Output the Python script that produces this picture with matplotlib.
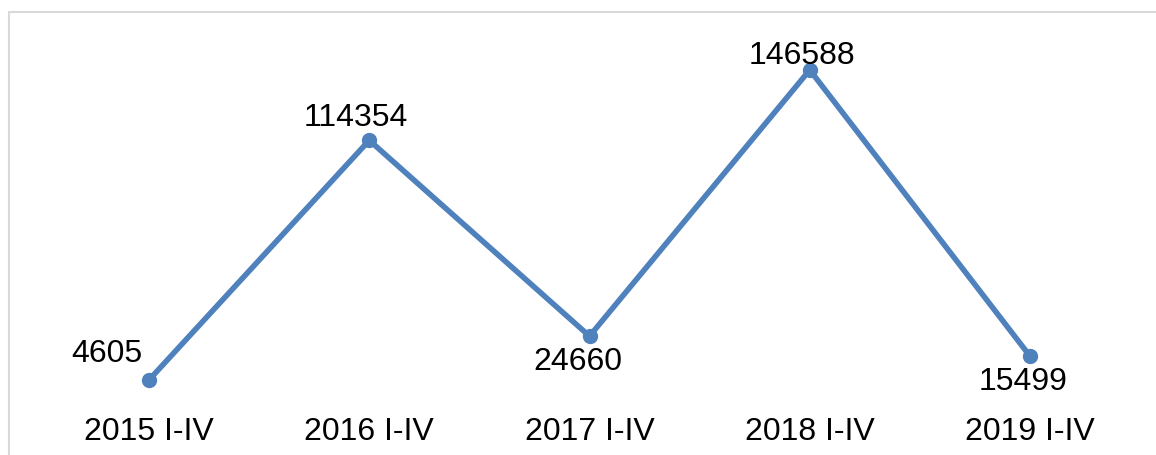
import matplotlib.pyplot as plt
from matplotlib.patches import Rectangle

plt.rcParams['font.family'] = ['Liberation Sans', 'DejaVu Sans']

# Data
periods = ['2015 I-IV', '2016 I-IV', '2017 I-IV', '2018 I-IV', '2019 I-IV']
values = [4605, 114354, 24660, 146588, 15499]
# label offsets in pixels (dx, dy) relative to each point
label_offsets = [(-42, 19), (-13, 15), (-12, -33), (-8, 7), (-7, -33)]

fig = plt.figure(figsize=(11.56, 4.56), dpi=100)
ax = fig.add_axes([0, 0, 1, 1])

# map data to pixels: x=0 at px 149, step 220.25; y=0 at px 391 (from top), 458 per px
ax.set_xlim(-149 / 220.25, (1156 - 149) / 220.25)
ax.set_ylim(-(456 - 391) * 458, 391 * 458)
ax.axis('off')

# chart border
fig.patches.append(Rectangle((9 / 1156, -0.1), 1.2, (456 - 13) / 456 + 0.1,
                             transform=fig.transFigure, fill=False,
                             edgecolor='#d9d9d9', linewidth=1.5))

x = list(range(len(values)))
ax.plot(x, values, color='#4F81BD', linewidth=4, marker='o', markersize=10,
        solid_capstyle='round')

for xi, v, (dx, dy) in zip(x, values, label_offsets):
    ax.annotate(str(v), (xi, v), xytext=(dx, dy), textcoords='offset pixels',
                ha='center', va='baseline', fontsize=23, color='black')

for xi, p in zip(x, periods):
    ax.text(xi, 1 - 440 / 456, p, transform=ax.get_xaxis_transform(),
            ha='center', va='baseline', fontsize=23, color='black')

fig.savefig('out.png', dpi=100)
